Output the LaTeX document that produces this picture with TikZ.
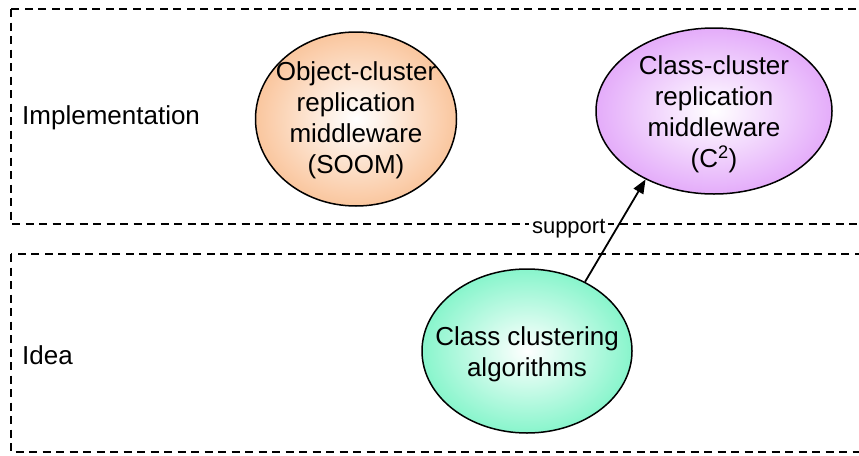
\documentclass[tikz,border=0pt]{standalone}
\usepackage{fontspec}
\setmainfont{Liberation Sans}
\usetikzlibrary{shapes.geometric,arrows.meta}
\definecolor{soomfill}{RGB}{250,198,158}
\definecolor{ccfill}{RGB}{228,172,250}
\definecolor{algfill}{RGB}{136,245,204}
\tikzset{
  layerbox/.style={draw=black, line width=1.7pt, dash pattern=on 8pt off 5.5pt},
  layername/.style={anchor=west, inner sep=0pt, font=\fontsize{26}{31}\selectfont},
  blob/.style={ellipse, draw=black, line width=1.5pt, inner sep=0pt, inner color=white, outer color=#1},
  blobtext/.style={align=center, font=\fontsize{26}{31}\selectfont},
  supportarrow/.style={-{Triangle[length=14pt,width=11pt]}, line width=1.8pt},
}
\begin{document}
\begin{tikzpicture}[x=1pt,y=-1pt]
  \useasboundingbox (0,0) rectangle (859,455);
  \clip (0,0) rectangle (859,455);
  \fill[white] (0,0) rectangle (859,455);

  % the two layers
  \draw[layerbox] (11,9) rectangle (880,224);
  \draw[layerbox] (11,254) rectangle (880,452);
  \node[layername] (impl) at (22,118) {Implementation};
  \node[layername] (idea) at (22,355) {Idea};

  % implementation layer
  \node[blob=soomfill, minimum width=201pt, minimum height=174pt,
        label={[blobtext, yshift=-1pt]center:Object-cluster\\replication\\middleware\\(SOOM)}]
        (soom) at (356,119) {};
  \node[blob=ccfill, minimum width=236pt, minimum height=166pt,
        label={[blobtext, yshift=-3pt]center:Class-cluster\\replication\\middleware\\(C\textsuperscript{2})}]
        (cc) at (714,111) {};

  % idea layer
  \node[blob=algfill, minimum width=210pt, minimum height=164pt,
        label={[blobtext, yshift=-3pt]center:Class clustering\\algorithms}]
        (alg) at (527,351) {};

  % support relation
  \draw[supportarrow] (alg.50) -- (cc.225)
    node[pos=0.5, anchor=east, xshift=-6pt, yshift=2pt, fill=white, inner sep=3pt,
         font=\fontsize{22}{26}\selectfont] (support) {support};
\end{tikzpicture}
\end{document}
